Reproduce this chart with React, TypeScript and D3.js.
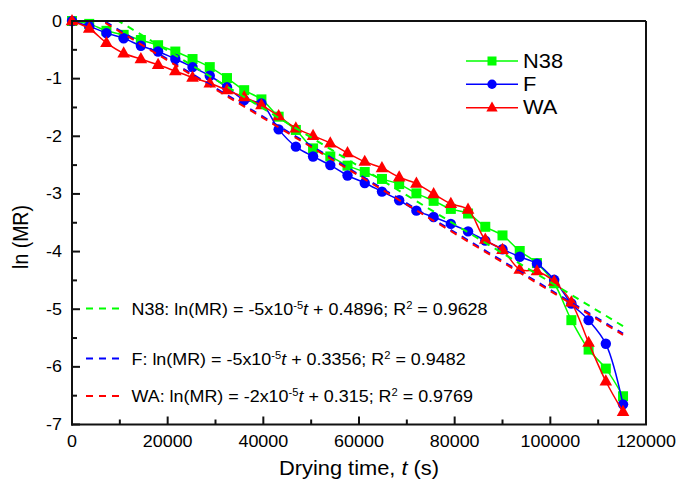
import React from 'react';
import * as d3 from 'd3';

// Drying time (s), sampled hourly
const TIME = [0, 3600, 7200, 10800, 14400, 18000, 21600, 25200, 28800, 32400, 36000, 39600, 43200, 46800, 50400, 54000, 57600, 61200, 64800, 68400, 72000, 75600, 79200, 82800, 86400, 90000, 93600, 97200, 100800, 104400, 108000, 111600, 115200];

const N38 = [0, -0.05, -0.17, -0.24, -0.33, -0.42, -0.53, -0.66, -0.80, -0.99, -1.20, -1.36, -1.66, -1.89, -2.21, -2.35, -2.51, -2.62, -2.74, -2.83, -2.99, -3.12, -3.26, -3.34, -3.57, -3.72, -3.99, -4.20, -4.55, -5.19, -5.70, -6.03, -6.51];
const F = [0, -0.09, -0.21, -0.30, -0.43, -0.53, -0.66, -0.80, -0.95, -1.15, -1.37, -1.43, -1.88, -2.18, -2.35, -2.50, -2.68, -2.81, -2.96, -3.11, -3.29, -3.40, -3.52, -3.65, -3.81, -3.96, -4.09, -4.21, -4.49, -4.90, -5.19, -5.60, -6.65];
const WA = [0, -0.13, -0.38, -0.56, -0.66, -0.76, -0.87, -0.98, -1.08, -1.20, -1.32, -1.46, -1.65, -1.86, -1.99, -2.12, -2.29, -2.44, -2.55, -2.71, -2.82, -3.00, -3.17, -3.27, -3.79, -3.97, -4.31, -4.34, -4.52, -4.88, -5.58, -6.25, -6.78];

// Linear fits: slope, intercept (as drawn)
const FIT_SLOPES = [-5.02e-5, -5.0e-5, -5.0e-5];
const FIT_INTERCEPTS = [0.4896, 0.3356, 0.315];
const FIT_RANGE = [0, 115200];

const SERIES_NAMES = ['N38', 'F', 'WA'];
const COLORS = ['#00ff00', '#0000ff', '#ff0000'];
const EQ_PARTS = [
  { label: 'N38', slope: '-5', intercept: '0.4896', r2: '0.9628' },
  { label: 'F', slope: '-5', intercept: '0.3356', r2: '0.9482' },
  { label: 'WA', slope: '-2', intercept: '0.315', r2: '0.9769' },
];

const X_TICKS = [0, 20000, 40000, 60000, 80000, 100000, 120000];
const X_MINOR = [10000, 30000, 50000, 70000, 90000, 110000];
const Y_TICKS = [0, -1, -2, -3, -4, -5, -6, -7];
const Y_MINOR = [-0.5, -1.5, -2.5, -3.5, -4.5, -5.5, -6.5];

const FONT = '"Liberation Sans", Arial, sans-serif';
const SX = 1.12;

function Marker({ kind, cx, cy, color, s = 1 }: { kind: number; cx: number; cy: number; color: string; s?: number }) {
  if (kind === 0) {
    const h = 5 * s;
    return <rect x={cx - h} y={cy - h} width={2 * h} height={2 * h} fill={color} />;
  }
  if (kind === 1) {
    return <circle cx={cx} cy={cy} r={5.2 * s} fill={color} />;
  }
  const p = `M${cx},${cy - 7 * s}L${cx + 6.3 * s},${cy + 4.2 * s}L${cx - 6.3 * s},${cy + 4.2 * s}Z`;
  return <path d={p} fill={color} />;
}

export default function App() {
  const x = d3.scaleLinear().domain([0, 120000]).range([72, 646]);
  const y = d3.scaleLinear().domain([-7, 0]).range([424.5, 21]);
  const [x0, x1] = x.range();
  const [yb, yt] = y.range();

  const data = [N38, F, WA];
  const line = d3
    .line<[number, number]>()
    .x((d) => x(d[0]))
    .y((d) => y(d[1]))
    .curve(d3.curveCatmullRom.alpha(0.5));
  const straight = d3
    .line<[number, number]>()
    .x((d) => x(d[0]))
    .y((d) => y(d[1]));

  const legendRows = [61, 84.3, 107.7];
  const eqRows = [308.5, 358.5, 396];

  return (
    <svg width={679} height={481} style={{ position: 'absolute', left: 0, top: 0, background: '#fff' }} fontFamily={FONT}>
      <defs>
        <clipPath id="plot">
          <rect x={x0} y={yt} width={x1 - x0} height={yb - yt} />
        </clipPath>
      </defs>
      <rect x={0} y={0} width={679} height={481} fill="#fff" />

      {/* data series */}
      {data.map((vals, k) => {
        const pts: [number, number][] = TIME.map((t, i) => [t, vals[i]]);
        return (
          <g key={'s' + k}>
            <path d={line(pts) || ''} fill="none" stroke={COLORS[k]} strokeWidth={1.5} />
            {pts.map((p, i) => (
              <Marker key={i} kind={k} cx={x(p[0])} cy={y(p[1])} color={COLORS[k]} />
            ))}
          </g>
        );
      })}

      {/* fits */}
      <g clipPath="url(#plot)">
        {FIT_SLOPES.map((m, k) => {
          const pts: [number, number][] = FIT_RANGE.map((t) => [t, FIT_INTERCEPTS[k] + m * t]);
          return (
            <path key={'f' + k} d={straight(pts) || ''} fill="none" stroke={COLORS[k]} strokeWidth={2} strokeDasharray="7,6" />
          );
        })}
      </g>

      {/* axes frame */}
      <g stroke="#111" strokeWidth={2} fill="none">
        <line x1={x0} y1={yt} x2={x1} y2={yt} />
        <line x1={x1} y1={yt} x2={x1} y2={yb} />
        <line x1={x0} y1={yt - 1} x2={x0} y2={yb + 1} />
        <line x1={x0 - 1} y1={yb} x2={x1 + 1} y2={yb} />
        {X_TICKS.map((t) => (
          <line key={'xt' + t} x1={x(t)} x2={x(t)} y1={yb} y2={yb - 8} />
        ))}
        {X_MINOR.map((t) => (
          <line key={'xm' + t} x1={x(t)} x2={x(t)} y1={yb} y2={yb - 5} />
        ))}
        {Y_TICKS.map((t) => (
          <line key={'yt' + t} x1={x0} x2={x0 + 8} y1={y(t)} y2={y(t)} />
        ))}
        {Y_MINOR.map((t) => (
          <line key={'ym' + t} x1={x0} x2={x0 + 5} y1={y(t)} y2={y(t)} />
        ))}
      </g>

      {/* tick labels */}
      <g fontSize={16} fill="#000">
        {X_TICKS.map((t) => (
          <text key={'xl' + t} transform={`translate(${x(t)},447) scale(${SX},1)`} textAnchor="middle">
            {t}
          </text>
        ))}
        {Y_TICKS.map((t) => (
          <text key={'yl' + t} transform={`translate(62,${y(t) + 5.5}) scale(${SX},1)`} textAnchor="end">
            {t}
          </text>
        ))}
      </g>

      {/* axis titles */}
      <text transform={`translate(359,475) scale(${SX},1)`} textAnchor="middle" fontSize={19.5} fill="#000">
        Drying time, <tspan fontStyle="italic">t</tspan> (s)
      </text>
      <text transform={`translate(28,237) rotate(-90) scale(1,${SX})`} textAnchor="middle" fontSize={19.5} fill="#000">
        ln (MR)
      </text>

      {/* legend */}
      {SERIES_NAMES.map((name, k) => (
        <g key={'lg' + k}>
          <line x1={466} x2={518} y1={legendRows[k]} y2={legendRows[k]} stroke={COLORS[k]} strokeWidth={1.5} />
          <Marker kind={k} cx={492} cy={legendRows[k]} color={COLORS[k]} s={0.9} />
          <text transform={`translate(523,${legendRows[k] + 6.5}) scale(${SX},1)`} fontSize={19.5} fill="#000">
            {name}
          </text>
        </g>
      ))}

      {/* fit equations */}
      {EQ_PARTS.map((e, k) => (
        <g key={'eq' + k}>
          <line x1={86} x2={125} y1={eqRows[k]} y2={eqRows[k]} stroke={COLORS[k]} strokeWidth={2} strokeDasharray="7,6" />
          <text transform={`translate(131.5,${eqRows[k] + 6}) scale(${SX},1)`} fontSize={16} fill="#000">
            {`${e.label}: ln(MR) = ${e.slope}x10`}
            <tspan fontSize={10} dy={-6}>-5</tspan>
            <tspan fontStyle="italic" dy={6}>t</tspan>
            {` + ${e.intercept}; R`}
            <tspan fontSize={10} dy={-6}>2</tspan>
            <tspan dy={6}>{` = ${e.r2}`}</tspan>
          </text>
        </g>
      ))}
    </svg>
  );
}
